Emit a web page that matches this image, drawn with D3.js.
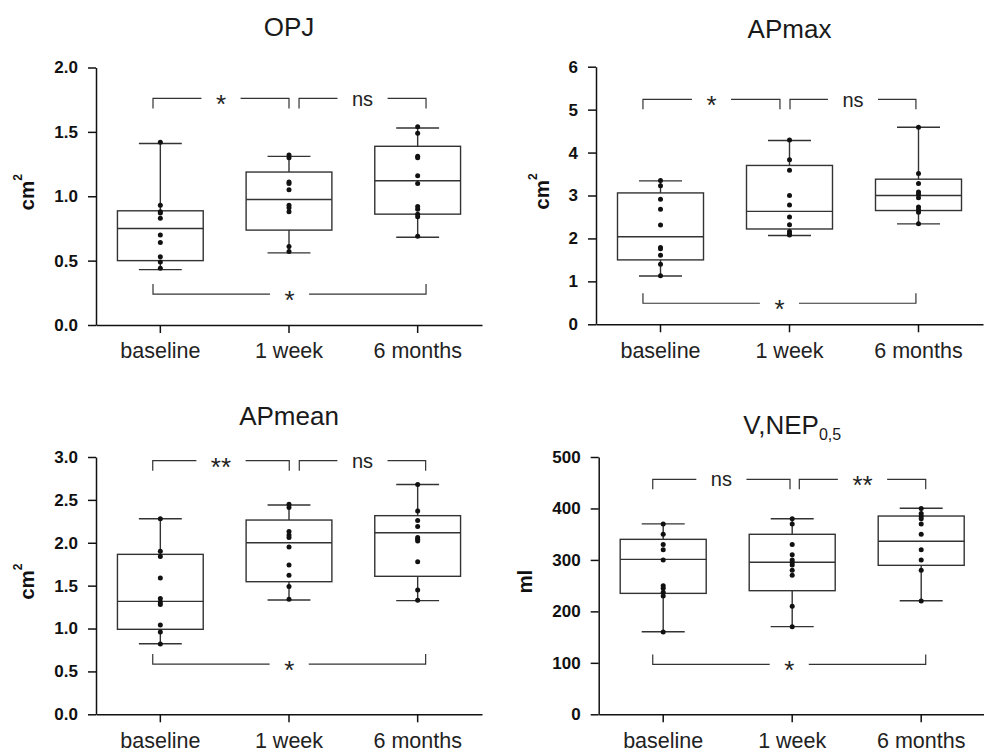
<!DOCTYPE html>
<html>
<head>
<meta charset="utf-8">
<script src="https://cdn.jsdelivr.net/npm/d3@7"></script>
<style>
  body { margin: 0; background: #fff; }
  svg { font-family: "Liberation Sans", Arial, Helvetica, sans-serif; }
</style>
</head>
<body>
<script>
var w = 984;
var h = 752;

var groups = ["baseline", "1 week", "6 months"];

// box stats per group: [min, q1, median, q3, max]
var opjStats = [[0.43, 0.50, 0.75, 0.887, 1.41], [0.56, 0.737, 0.975, 1.188, 1.31], [0.682, 0.861, 1.12, 1.388, 1.53]];
var apmaxStats = [[1.125, 1.50, 2.04, 3.06, 3.34], [2.07, 2.22, 2.63, 3.70, 4.28], [2.34, 2.65, 3.00, 3.38, 4.59]];
var apmeanStats = [[0.823, 0.991, 1.317, 1.865, 2.28], [1.333, 1.546, 2.00, 2.265, 2.44], [1.325, 1.609, 2.117, 2.316, 2.68]];
var vnepStats = [[160.5, 235, 301, 340, 370], [170.3, 240.2, 295.4, 349.8, 380], [220.8, 289.5, 336.2, 385.3, 400.3]];

// individual patients
var opjPoints = [
  [1.42, 0.93, 0.88, 0.87, 0.83, 0.70, 0.64, 0.53, 0.49, 0.44],
  [1.32, 1.30, 1.11, 1.10, 1.05, 0.93, 0.91, 0.88, 0.61, 0.57],
  [1.54, 1.49, 1.31, 1.30, 1.16, 1.10, 0.92, 0.90, 0.86, 0.84, 0.69]
];
var apmaxPoints = [
  [3.35, 3.23, 2.91, 2.68, 2.31, 1.79, 1.76, 1.61, 1.40, 1.13],
  [4.29, 3.83, 3.59, 3.00, 2.78, 2.50, 2.32, 2.16, 2.11, 2.08],
  [4.59, 3.51, 3.28, 3.08, 3.03, 2.95, 2.73, 2.67, 2.61, 2.34]
];
var apmeanPoints = [
  [2.28, 1.90, 1.84, 1.59, 1.35, 1.31, 1.28, 1.04, 0.96, 0.82],
  [2.45, 2.41, 2.13, 2.09, 2.06, 1.95, 1.74, 1.62, 1.49, 1.34],
  [2.68, 2.37, 2.26, 2.19, 2.06, 2.04, 2.02, 1.78, 1.45, 1.33]
];
var vnepPoints = [
  [370, 350, 330, 320, 300, 250, 245, 237, 230, 160],
  [380, 370, 330, 310, 300, 295, 290, 280, 270, 210, 170],
  [400, 390, 385, 380, 370, 350, 320, 300, 280, 220]
];

// significance brackets: [from group index, to group index, value, label]
var opjBrackets = [[-0.057, 1.0, 1.76, "*"], [1.078, 2.065, 1.76, "ns"], [-0.057, 2.065, 0.24, "*"]];
var apmaxBrackets = [[-0.136, 0.926, 5.24, "*"], [1.004, 1.98, 5.24, "ns"], [-0.136, 1.98, 0.49, "*"]];
var apmeanBrackets = [[-0.059, 1.002, 2.957, "**"], [1.08, 2.062, 2.957, "ns"], [-0.059, 2.062, 0.586, "*"]];
var vnepBrackets = [[-0.081, 0.983, 456.7, "ns"], [1.055, 2.035, 456.7, "**"], [-0.081, 2.035, 97, "*"]];

var opjTicks = [0, 0.5, 1.0, 1.5, 2.0];
var apmaxTicks = [0, 1, 2, 3, 4, 5, 6];
var apmeanTicks = [0, 0.5, 1.0, 1.5, 2.0, 2.5, 3.0];
var vnepTicks = [0, 100, 200, 300, 400, 500];

var panels = [
  {title: "OPJ", sub: "", ylab: "cm", sup: "2", domain: [0, 2], ticks: opjTicks, fmt: ".1f",
   stats: opjStats, points: opjPoints, brackets: opjBrackets,
   left: 96, right: 482, top: 67.5, bottom: 325, titleY: 35.5},
  {title: "APmax", sub: "", ylab: "cm", sup: "2", domain: [0, 6], ticks: apmaxTicks, fmt: "d",
   stats: apmaxStats, points: apmaxPoints, brackets: apmaxBrackets,
   left: 596, right: 983, top: 66.7, bottom: 324.3, titleY: 38.3},
  {title: "APmean", sub: "", ylab: "cm", sup: "2", domain: [0, 3], ticks: apmeanTicks, fmt: ".1f",
   stats: apmeanStats, points: apmeanPoints, brackets: apmeanBrackets,
   left: 96, right: 482, top: 457, bottom: 714.3, titleY: 425.3},
  {title: "V,NEP", sub: "0,5", ylab: "ml", sup: "", domain: [0, 500], ticks: vnepTicks, fmt: "d",
   stats: vnepStats, points: vnepPoints, brackets: vnepBrackets,
   left: 598.7, right: 985.7, top: 457, bottom: 714.3, titleY: 434}
];

var svg = d3.select("body")
  .append("svg")
  .attr("width", w)
  .attr("height", h);

panels.forEach(function (p) {
  var g = svg.append("g");

  var x = d3.scaleBand()
    .domain(groups)
    .range([p.left, p.right]);
  var bw = x.bandwidth();
  var xi = d3.scaleLinear()
    .domain([-0.5, groups.length - 0.5])
    .range([p.left, p.right]);
  var y = d3.scaleLinear()
    .domain(p.domain)
    .range([p.bottom, p.top]);

  // axes
  var gy = g.append("g")
    .attr("transform", "translate(" + p.left + ",0)")
    .call(d3.axisLeft(y).tickValues(p.ticks).tickFormat(d3.format(p.fmt))
      .tickSize(8).tickPadding(10).tickSizeOuter(0));
  gy.selectAll("text")
    .attr("fill", "#111")
    .style("font-size", "17px")
    .style("font-weight", "bold");

  var gx = g.append("g")
    .attr("transform", "translate(0," + p.bottom + ")")
    .call(d3.axisBottom(x).tickSize(8).tickPadding(10).tickSizeOuter(0));
  gx.selectAll("text")
    .attr("fill", "#222")
    .style("font-size", "21.5px");

  g.selectAll(".domain, .tick line")
    .attr("stroke", "#111")
    .attr("stroke-width", 1.5);

  // y label
  var bb = gy.node().getBBox();
  var ylab = g.append("text")
    .attr("transform", "translate(" + (p.left + bb.x - 20) + "," + ((p.top + p.bottom) / 2 - 4) + ") rotate(-90)")
    .attr("text-anchor", "middle")
    .attr("fill", "#111")
    .style("font-size", "20.5px")
    .style("font-weight", "bold");
  ylab.append("tspan").text(p.ylab);
  if (p.sup) {
    ylab.append("tspan").attr("dy", -12).style("font-size", "12px").text(p.sup);
  }

  // title
  var title = g.append("text")
    .attr("x", (p.left + p.right) / 2)
    .attr("y", p.titleY)
    .attr("text-anchor", "middle")
    .attr("fill", "#1a1a1a")
    .style("font-size", "26px");
  title.append("tspan").text(p.title);
  if (p.sub) {
    title.append("tspan").attr("dy", 6).style("font-size", "16px").text(p.sub);
  }

  // boxes
  var boxes = g.selectAll(".box")
    .data(p.stats)
    .enter()
    .append("g")
    .attr("class", "box")
    .attr("transform", function (d, i) {
      return "translate(" + (x(groups[i]) + bw / 2) + ",0)";
    })
    .attr("stroke", "#333")
    .attr("stroke-width", 1.4)
    .attr("fill", "none");

  boxes.append("line")
    .attr("x1", 0).attr("x2", 0)
    .attr("y1", function (d) { return y(d[0]); })
    .attr("y2", function (d) { return y(d[1]); });
  boxes.append("line")
    .attr("x1", 0).attr("x2", 0)
    .attr("y1", function (d) { return y(d[3]); })
    .attr("y2", function (d) { return y(d[4]); });
  boxes.append("line")
    .attr("x1", -bw / 6).attr("x2", bw / 6)
    .attr("y1", function (d) { return y(d[0]); })
    .attr("y2", function (d) { return y(d[0]); });
  boxes.append("line")
    .attr("x1", -bw / 6).attr("x2", bw / 6)
    .attr("y1", function (d) { return y(d[4]); })
    .attr("y2", function (d) { return y(d[4]); });
  boxes.append("rect")
    .attr("x", -bw / 3)
    .attr("width", bw * 2 / 3)
    .attr("y", function (d) { return y(d[3]); })
    .attr("height", function (d) { return y(d[1]) - y(d[3]); });
  boxes.append("line")
    .attr("x1", -bw / 3).attr("x2", bw / 3)
    .attr("y1", function (d) { return y(d[2]); })
    .attr("y2", function (d) { return y(d[2]); });

  // points
  p.points.forEach(function (vals, i) {
    g.selectAll(null)
      .data(vals)
      .enter()
      .append("circle")
      .attr("cx", x(groups[i]) + bw / 2)
      .attr("cy", function (d) { return y(d); })
      .attr("r", 2.5)
      .attr("fill", "#111");
  });

  // brackets
  var top = d3.max(p.stats, function (s) { return s[4]; });
  p.brackets.forEach(function (b) {
    var x1 = xi(b[0]), x2 = xi(b[1]), yy = y(b[2]);
    var leg = b[2] > top ? 10 : -10;
    var mid = (x1 + x2) / 2;
    var isStar = b[3].indexOf("*") >= 0;
    var t = g.append("text")
      .attr("x", mid)
      .attr("y", yy)
      .attr("dy", isStar ? "0.58em" : "0.36em")
      .attr("text-anchor", "middle")
      .attr("fill", "#222")
      .style("font-size", isStar ? "26px" : "20px")
      .text(b[3]);
    var half = t.node().getComputedTextLength() / 2 + 14.5;
    g.append("path")
      .attr("d", "M" + x1 + "," + (yy + leg) + "V" + yy + "H" + (mid - half) +
        "M" + (mid + half) + "," + yy + "H" + x2 + "V" + (yy + leg))
      .attr("fill", "none")
      .attr("stroke", "#333")
      .attr("stroke-width", 1.2);
  });
});
</script>
</body>
</html>
